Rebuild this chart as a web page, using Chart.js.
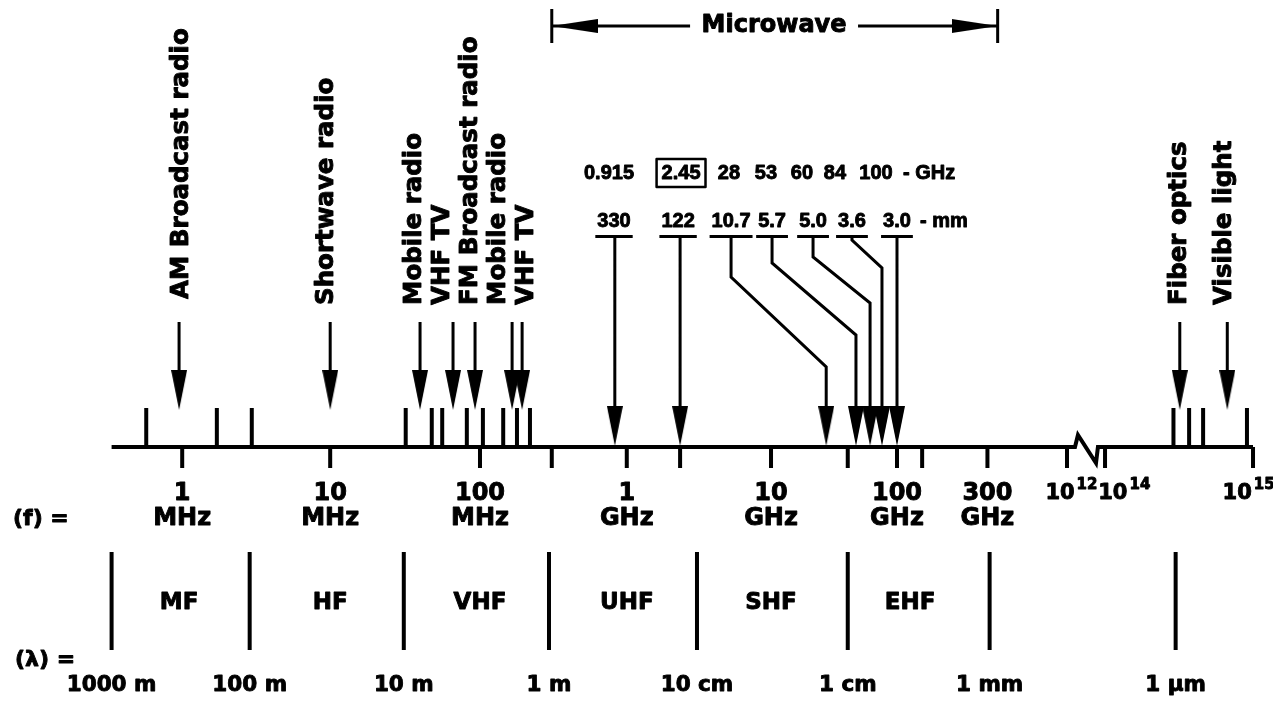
<!DOCTYPE html>
<html>
<head>
<meta charset="utf-8">
<title>Electromagnetic spectrum</title>
<script src="https://cdn.jsdelivr.net/npm/chart.js"></script>
<style>
  html, body { margin: 0; padding: 0; background: #fff; }
  #wrap { width: 1273px; height: 702px; position: relative; }
</style>
</head>
<body>
<div id="wrap"><canvas id="chart"></canvas></div>
<script>
// ---- values (frequencies in Hz) ----
const serviceLabels = ['AM Broadcast radio', 'Shortwave radio', 'Mobile radio', 'VHF TV',
  'FM Broadcast radio', 'Mobile radio', 'VHF TV', 'Fiber optics', 'Visible light'];
const serviceHz = [1.0e6, 1.05e7, 4.25e7, 7.1e7, 1.0e8, 1.78e8, 2.08e8, 3.2e14, 6.7e14];

const mwGHzLabels = ['0.915', '2.45', '28', '53', '60', '84', '100'];
const mwMmLabels = ['330', '122', '10.7', '5.7', '5.0', '3.6', '3.0'];
const mwArrowHz = [0.88e9, 2.43e9, 2.36e10, 3.75e10, 4.67e10, 5.62e10, 7.1e10];
const mwRangeHz = [3.3e8, 3.4e11];

// short marks standing on the line, and the ones hanging below it
const upTickHz = [6.0e5, 1.8e6, 3.1e6, 3.4e7, 5.1e7, 6.0e7, 8.8e7, 1.13e8, 1.55e8, 1.92e8, 2.35e8,
  2.9e14, 3.7e14, 4.6e14, 9.1e14];
const downTickHz = [1.05e6, 1.05e7, 1.08e8, 3.3e8, 1.06e9, 2.43e9, 1.0e10, 3.3e10, 7.1e10, 1.05e11,
  2.9e11, 1e12, 1e14, 1e15];
const axisHz = [3.5e5, 1e15];

const freqLabelHz = [1.05e6, 1.05e7, 1.08e8, 1.06e9, 1.0e10, 7.1e10, 2.9e11];
const freqLabelNum = ['1', '10', '100', '1', '10', '100', '300'];
const freqLabelUnit = ['MHz', 'MHz', 'MHz', 'GHz', 'GHz', 'GHz', 'GHz'];
const powerHz = [1e12, 1e14, 1e15];
const powerExp = ['12', '14', '15'];

const bandNames = ['MF', 'HF', 'VHF', 'UHF', 'SHF', 'EHF'];
const bandNameHz = [1.0e6, 1.05e7, 1.08e8, 1.06e9, 1.0e10, 8.7e10];
const bandEdgeHz = [3.5e5, 3.0e6, 3.3e7, 3.16e8, 3.16e9, 3.3e10, 3.0e11, 3.0e14];
const wavelengthLabels = ['1000 m', '100 m', '10 m', '1 m', '10 cm', '1 cm', '1 mm', '1 \u03bcm'];

// ---- axis mapping: log10 of frequency, squeezed between 1e12 and 1e14 (the break) ----
const BREAK_SQUEEZE = 0.1285;
const BREAK_SHIFT = 2 - 2 * BREAK_SQUEEZE;
function u(hz) {
  const l = Math.log10(hz);
  if (l <= 12) return l;
  if (l <= 14) return 12 + (l - 12) * BREAK_SQUEEZE;
  return l - BREAK_SHIFT;
}

// ---- layout (y: spectrum line = 0, upward positive) ----
const X_MIN = 4.79, X_MAX = 13.392;
const Y = {
  top: 447, bottom: -255,
  tickUp: 39, tickDown: -21,
  arrowTop: 125, arrowTip: 37, head: 40,
  labelBase: 142,
  mwGHz: 274, mwMm: 226, mwBar: 210, mwTip: 1,
  bracket: 421, bracketHalf: 17,
  fLine1: -47, fLine2: -72,
  bandTop: -105, bandBottom: -203, bandName: -156,
  lambda: -213, wave: -238
};
const SERVICE_LABEL_U = [6.02, 7.0, 7.595, 7.784, 7.973, 8.162, 8.351, 12.764, 13.068];
const MW_COL_U = [8.939, 9.372, 9.73, 10.007, 10.284, 10.547, 10.851];
const MW_GHZ_U = [8.905, 9.392, 9.716, 9.966, 10.209, 10.432, 10.709];
const MW_BENDS = [null, null, [170, 80], [184, 112], [190, 144], [207, 179], null];
const MW_SUFFIX_U = [10.892, 11.007];
const MW_TEXT_GAP_U = [9.453, 10.588];
const BREAK_U = [12.054, 12.074, 12.196, 12.209];
const POWER_NUDGE = [0.03, 0.13, -0.03];

const ink = '#000';
const FONT = "'DejaVu Sans', sans-serif";

// arrowhead sprites (pointing down)
function headSprite(w, h) {
  const c = document.createElement('canvas');
  c.width = w; c.height = h;
  const g = c.getContext('2d');
  g.fillStyle = ink;
  g.beginPath(); g.moveTo(0, 0); g.lineTo(w, 0); g.lineTo(w / 2, h); g.closePath(); g.fill();
  return c;
}
const arrowHead = headSprite(16, Y.head);
const bracketHead = headSprite(14, 46);

// several polylines in one dataset, split by gaps
function paths(list) {
  const out = [];
  list.forEach(p => {
    p.forEach(q => out.push({ x: q[0], y: q[1] }));
    out.push({ x: p[p.length - 1][0], y: null });
  });
  return out;
}
function lineSet(data, width) {
  return { data, borderColor: ink, borderWidth: width, pointRadius: 0, borderCapStyle: 'butt' };
}
function headSet(points, sprite, rotation) {
  return { data: points, showLine: false, pointStyle: sprite, pointRadius: 5,
    pointRotation: rotation, borderColor: ink, backgroundColor: ink };
}

const datasets = [];
// spectrum line with its break
datasets.push(lineSet(paths([[
  [u(axisHz[0]), 0], [BREAK_U[0], 0], [BREAK_U[1], 12], [BREAK_U[2], -16], [BREAK_U[3], 0], [u(axisHz[1]), 0]
]]), 4));
datasets.push(lineSet(paths(upTickHz.map(f => [[u(f), 0], [u(f), Y.tickUp]])), 4));
datasets.push(lineSet(paths(downTickHz.map(f => [[u(f), 0], [u(f), Y.tickDown]])), 4));
// service arrows
datasets.push(lineSet(paths(serviceHz.map(f => [[u(f), Y.arrowTop], [u(f), Y.arrowTip + 20]])), 3));
datasets.push(headSet(serviceHz.map(f => ({ x: u(f), y: Y.arrowTip + Y.head / 2 })), arrowHead, 0));
// microwave arrows
datasets.push(lineSet(paths(mwArrowHz.map((f, i) => {
  const t = u(f);
  if (!MW_BENDS[i]) return [[t, Y.mwBar], [t, Y.mwTip + 20]];
  const c = MW_COL_U[i];
  return [[c, Y.mwBar], [c, MW_BENDS[i][0]], [t, MW_BENDS[i][1]], [t, Y.mwTip + 20]];
})), 3));
datasets.push(headSet(mwArrowHz.map(f => ({ x: u(f), y: Y.mwTip + Y.head / 2 })), arrowHead, 0));
// band boundaries
datasets.push(lineSet(paths(bandEdgeHz.map(f => [[u(f), Y.bandTop], [u(f), Y.bandBottom]])), 4));
// microwave range bracket
const mL = u(mwRangeHz[0]), mR = u(mwRangeHz[1]);
datasets.push(lineSet(paths([
  [[mL, Y.bracket], [MW_TEXT_GAP_U[0], Y.bracket]],
  [[MW_TEXT_GAP_U[1], Y.bracket], [mR, Y.bracket]],
  [[mL, Y.bracket - Y.bracketHalf], [mL, Y.bracket + Y.bracketHalf]],
  [[mR, Y.bracket - Y.bracketHalf], [mR, Y.bracket + Y.bracketHalf]]
]), 3));
datasets.push(headSet([{ x: mL + 0.155, y: Y.bracket }], bracketHead, 90));
datasets.push(headSet([{ x: mR - 0.155, y: Y.bracket }], bracketHead, -90));

const textPlugin = {
  id: 'diagramText',
  afterDatasetsDraw(chart) {
    const { ctx, scales: { x, y } } = chart;
    const px = v => x.getPixelForValue(v), py = v => y.getPixelForValue(v);
    // heavy bold text, like the printed original
    const put = (s, xv, yv, font, align) => {
      ctx.font = font; ctx.textAlign = align || 'center'; ctx.textBaseline = 'middle';
      ctx.fillText(s, xv, yv);
      ctx.lineWidth = 0.9;
      ctx.strokeText(s, xv, yv);
    };
    ctx.save();
    ctx.fillStyle = ink; ctx.strokeStyle = ink; ctx.lineJoin = 'round';

    // rotated service names
    serviceLabels.forEach((s, i) => {
      ctx.save();
      ctx.translate(px(SERVICE_LABEL_U[i]), py(i === 0 ? Y.labelBase + 6 : Y.labelBase));
      ctx.rotate(-Math.PI / 2);
      put(s, 0, 0, 'bold 24.5px ' + FONT, 'left');
      ctx.restore();
    });

    // microwave bracket title
    put('Microwave', px((MW_TEXT_GAP_U[0] + MW_TEXT_GAP_U[1]) / 2), py(Y.bracket), 'bold 24px ' + FONT);

    // microwave frequencies and wavelengths
    const numFont = "bold 20px 'Liberation Sans', sans-serif";
    mwGHzLabels.forEach((s, i) => {
      const cx = px(MW_GHZ_U[i]);
      put(s, cx, py(Y.mwGHz), numFont);
      if (s === '2.45') {
        ctx.font = numFont;
        const w = ctx.measureText(s).width + 10;
        ctx.lineWidth = 2.5;
        ctx.strokeRect(cx - w / 2, py(Y.mwGHz + 14), w, py(Y.mwGHz - 14) - py(Y.mwGHz + 14));
      }
    });
    put('- GHz', px(MW_SUFFIX_U[0]), py(Y.mwGHz), numFont, 'left');
    mwMmLabels.forEach((s, i) => {
      const cx = px(MW_COL_U[i]);
      put(s, cx, py(Y.mwMm), numFont);
      ctx.font = numFont;
      const w = ctx.measureText(s).width + 4;
      ctx.fillRect(cx - w / 2, py(Y.mwBar + 2), w, 3);
    });
    put('- mm', px(MW_SUFFIX_U[1]), py(Y.mwMm), numFont, 'left');

    // frequency scale
    const axFont = 'bold 24px ' + FONT;
    freqLabelHz.forEach((f, i) => {
      put(freqLabelNum[i], px(u(f)), py(Y.fLine1), axFont);
      put(freqLabelUnit[i], px(u(f)), py(Y.fLine2), axFont);
    });
    powerHz.forEach((f, i) => {
      const baseFont = 'bold 21px ' + FONT, expFont = 'bold 15px ' + FONT;
      ctx.font = baseFont; const w1 = ctx.measureText('10').width;
      ctx.font = expFont; const w2 = ctx.measureText(powerExp[i]).width;
      const left = px(u(f) + POWER_NUDGE[i]) - (w1 + w2 + 2) / 2;
      put('10', left, py(Y.fLine1), baseFont, 'left');
      put(powerExp[i], left + w1 + 2, py(Y.fLine1 + 9), expFont, 'left');
    });
    put('(f) =', px(4.878), py(Y.fLine2), 'bold 22px ' + FONT, 'left');

    // bands and wavelengths
    bandNames.forEach((s, i) => put(s, px(u(bandNameHz[i])), py(Y.bandName), 'bold 23px ' + FONT));
    put('(\u03bb) =', px(4.891), py(Y.lambda), 'bold 22px ' + FONT, 'left');
    wavelengthLabels.forEach((s, i) => put(s, px(u(bandEdgeHz[i])), py(Y.wave), 'bold 21.5px ' + FONT));

    ctx.restore();
  }
};

new Chart(document.getElementById('chart'), {
  type: 'line',
  data: { datasets },
  options: {
    responsive: true,
    maintainAspectRatio: false,
    animation: false,
    events: [],
    layout: { padding: 0, autoPadding: false },
    plugins: { legend: { display: false }, tooltip: { enabled: false } },
    elements: { line: { tension: 0 } },
    scales: {
      x: { type: 'linear', min: X_MIN, max: X_MAX, display: false },
      y: { type: 'linear', min: Y.bottom, max: Y.top, display: false }
    }
  },
  plugins: [textPlugin]
});
</script>
</body>
</html>
